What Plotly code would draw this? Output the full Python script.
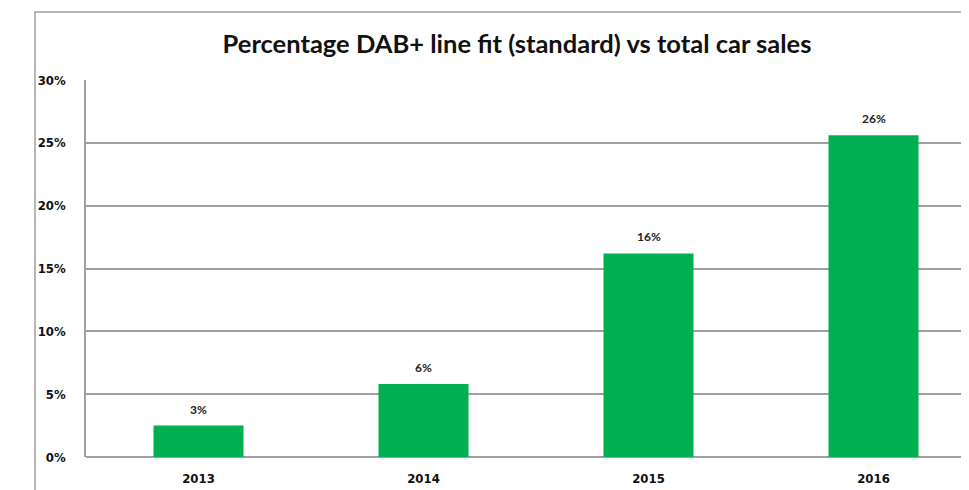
import plotly.graph_objects as go

years = ["2013", "2014", "2015", "2016"]
share = [0.025, 0.058, 0.162, 0.256]
labels = ["3%", "6%", "16%", "26%"]
title_text = "Percentage DAB+ line fit (standard) vs total car sales"

GREEN = "#00B050"
GRID = "#A0A0A0"
TICKFONT = dict(family="DejaVu Sans Condensed, Liberation Sans Narrow, sans-serif",
                size=13, color="#111111", weight="bold")

# page body has an 8px offset, so layout positions are shifted by -8
OFF = 8
fig = go.Figure()
fig.add_trace(go.Bar(x=years, y=share, width=0.4, marker=dict(color=GREEN, line=dict(width=0)),
                     hoverinfo="skip"))

for i, (v, lab) in enumerate(zip(share, labels)):
    fig.add_annotation(x=i, y=v, text=lab, showarrow=False, yanchor="bottom", yshift=7,
                       font=dict(family="Lato, Open Sans, sans-serif", size=12, color="#222222",
                                 weight="bold"))

fig.update_layout(
    width=969, height=490,
    margin=dict(l=86 - OFF, r=0, t=80 - OFF, b=490 - (457 - OFF)),
    paper_bgcolor="white", plot_bgcolor="white",
    showlegend=False,
    title=dict(text=title_text, x=(517 - OFF) / 969, xref="container", xanchor="center",
               y=1 - (44 - OFF) / 490, yref="container", yanchor="middle",
               font=dict(family="Lato, Open Sans, sans-serif", size=25.5, color="#111111",
                         weight="bold")),
    xaxis=dict(type="category", range=[-0.5, 3.46], showgrid=False, ticks="",
               tickfont=TICKFONT, ticklabelstandoff=12, showline=False, zeroline=False),
    yaxis=dict(range=[0, 0.30], dtick=0.05, tickformat=".0%", showgrid=True,
               gridcolor=GRID, gridwidth=1.5, zeroline=True, zerolinecolor=GRID,
               zerolinewidth=1.5, showline=True, linecolor=GRID, linewidth=1.5,
               ticks="", tickfont=TICKFONT, ticklabelstandoff=16),
    bargap=0.6,
)

# outer chart border (partially cropped in the reference)
pw = 969 - (86 - OFF)
ph = 457 - 80
fig.add_shape(type="rect", xref="paper", yref="paper",
              x0=(35 - 86) / pw, x1=1.05, y0=-0.3, y1=(457 - 12) / ph,
              line=dict(color=GRID, width=1.5), fillcolor="rgba(0,0,0,0)", layer="below")

fig.write_html("out.html")
